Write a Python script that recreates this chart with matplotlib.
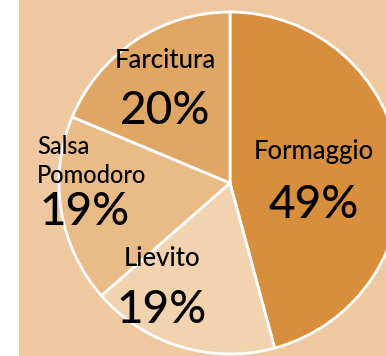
#Libraries
import matplotlib
matplotlib.use("Agg")
import matplotlib.pyplot as plt
from matplotlib.patches import Rectangle

# Pizza ingredients share (percent)
ingredients = ["Formaggio", "Lievito", "Salsa\nPomodoro", "Farcitura"]
shares = [49, 19, 19, 20]
slice_colors = ["#d78f3c", "#f2d3b0", "#e9bb87", "#e0a664"]

background = "#eec89e"

# Canvas in pixel units, y measured from the bottom
W, H = 386, 356
pie_center = (230, H - 183)
pie_radius = 171

# where each name / percent goes: (x, y of name, y of percent, alignment)
label_spots = [
    (314, H - 152, H - 205, "center"),
    (162, H - 259, H - 310, "center"),
    (37, H - 161, H - 212, "left"),
    (165, H - 60, H - 111, "center"),
]

plt.rcParams['font.family'] = ['Lato', 'DejaVu Sans']

fig = plt.figure(figsize=(W / 100, H / 100), dpi=100, facecolor="white")
ax = fig.add_axes([0, 0, 1, 1])

# tan panel, leaving a white strip on the left
ax.add_patch(Rectangle((19, 0), W - 19, H, facecolor=background, edgecolor="none", zorder=0))

wedges, _ = ax.pie(shares, colors=slice_colors, startangle=90, counterclock=False,
                   center=pie_center, radius=pie_radius, frame=True,
                   wedgeprops=dict(edgecolor="white", linewidth=2))
for w in wedges:
    w.set_zorder(1)

for name, pct, (x, yn, yp, ha) in zip(ingredients, shares, label_spots):
    if ha == "left":
        ax.text(x, yn, name, ha="left", va="center", fontsize=17, fontweight="medium",
                linespacing=1.3, zorder=3)
        ax.text(x + 2, yp, f"{pct}%", ha="left", va="center", fontsize=33,
                fontweight="medium", zorder=3)
    else:
        ax.text(x, yn, name, ha=ha, va="center", fontsize=18.5, fontweight="medium", zorder=3)
        ax.text(x, yp, f"{pct}%", ha=ha, va="center", fontsize=33, fontweight="medium", zorder=3)

ax.set_xlim(0, W)
ax.set_ylim(0, H)
ax.set_aspect("equal")
ax.axis("off")

fig.savefig("out.png", dpi=100, facecolor="white")
